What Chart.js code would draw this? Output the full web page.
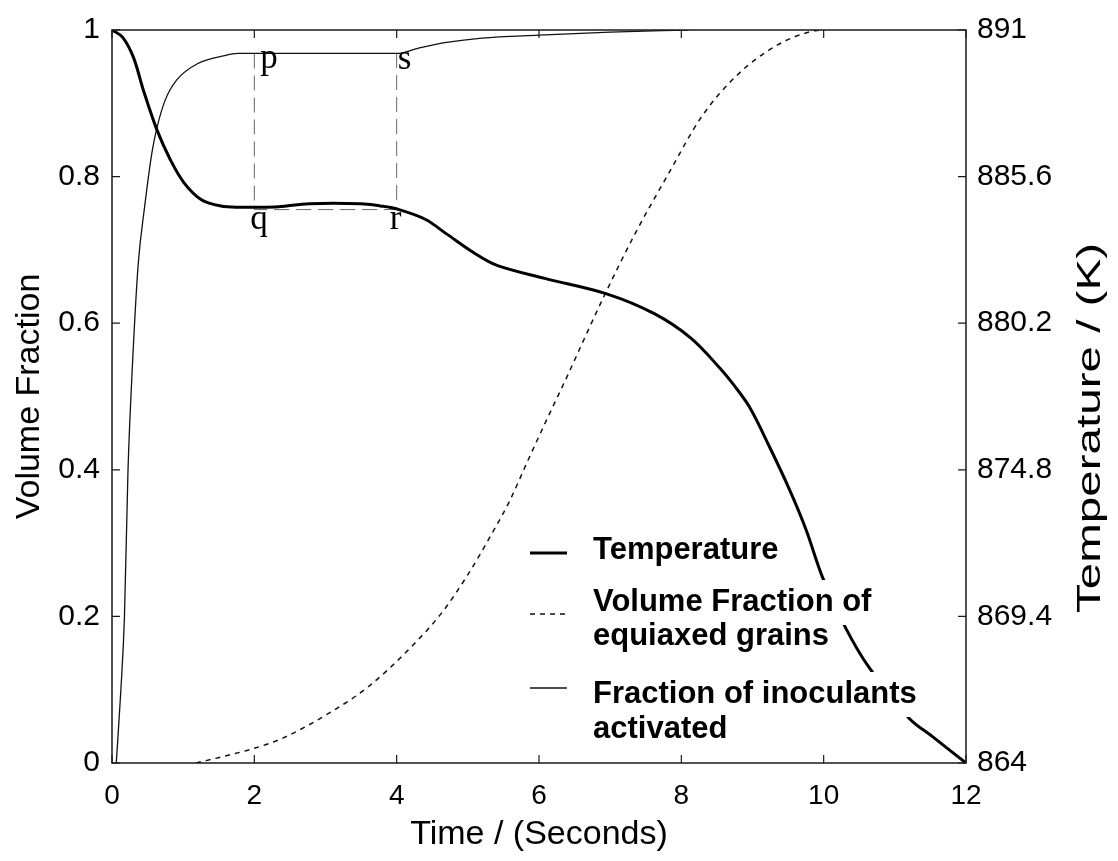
<!DOCTYPE html>
<html>
<head>
<meta charset="utf-8">
<title>Temperature and volume fraction against time</title>
<script src="https://cdn.jsdelivr.net/npm/chart.js@4.4.1/dist/chart.umd.min.js"></script>
<style>
  html, body { margin: 0; padding: 0; background: #fff; }
  #wrap { width: 1118px; height: 861px; }
</style>
</head>
<body>
<div id="wrap"><canvas id="chart" width="1118" height="861"></canvas></div>
<script>
// --- data ---

// temperature (K), thick curve, right axis
const tempTime = [0, 0.15, 0.3, 0.44, 0.63, 0.82, 1.01, 1.25, 1.53, 1.82, 2.0, 2.34, 2.77, 3.49, 3.77, 4.0,
  4.4, 4.7, 5.1, 5.41, 6.08, 6.95, 7.62, 8.13, 8.54, 8.75, 8.96, 9.24, 9.52, 9.75, 9.99, 10.31, 10.64, 11.2, 11.53, 12];
const tempK = [891, 890.73, 890.0, 888.79, 887.33, 886.22, 885.38, 884.76, 884.52, 884.47, 884.47, 884.49, 884.6, 884.6, 884.52, 884.41,
  884.03, 883.49, 882.77, 882.33, 881.85, 881.28, 880.55, 879.66, 878.55, 877.88, 877.1, 875.64, 874.07, 872.61, 870.8, 868.97, 867.51, 865.65, 864.97, 864];

// volume fraction of equiaxed grains, dotted curve
const grainTime = [1.18, 1.65, 2.0, 2.4, 3.05, 3.6, 4.15, 4.65, 5.0, 5.35, 5.58, 5.85, 6.15, 6.35, 6.9, 7.36, 7.82, 8.28, 8.79, 9.36, 9.82, 9.95];
const grainFrac = [0, 0.011, 0.02, 0.034, 0.068, 0.104, 0.153, 0.207, 0.257, 0.315, 0.356, 0.414, 0.477, 0.518, 0.634, 0.724, 0.804, 0.881, 0.939, 0.98, 0.998, 1.0];

// fraction of inoculants activated, thin curve
const inocTime = [0.06, 0.125, 0.175, 0.225, 0.275, 0.367, 0.46, 0.56, 0.63, 0.75, 0.91, 1.2, 1.58, 1.77, 2.0, 3.0, 4.0,
  4.3, 4.7, 5.2, 6.0, 7.0, 8.1];
const inocFrac = [0, 0.1, 0.2, 0.4, 0.518, 0.679, 0.76, 0.832, 0.866, 0.905, 0.932, 0.954, 0.965, 0.968, 0.968, 0.968, 0.968,
  0.975, 0.983, 0.989, 0.993, 0.997, 1.0];

// p-q-r-s construction
const boxTime = [2, 2, 4, 4];
const boxFrac = [0.968, 0.755, 0.755, 0.968];
const boxLabels = ['p', 'q', 'r', 's'];

// ticks
const timeTicks = [0, 2, 4, 6, 8, 10, 12];
const fracTicks = [0, 0.2, 0.4, 0.6, 0.8, 1];
const tempTicks = [864, 869.4, 874.8, 880.2, 885.6, 891];

const legendLines = [['Temperature'], ['Volume Fraction of', 'equiaxed grains'], ['Fraction of inoculants', 'activated']];

const pts = (xs, ys) => xs.map((x, i) => ({ x, y: ys[i] }));

Chart.defaults.font.family = "'Liberation Sans', Arial, sans-serif";
Chart.defaults.color = '#000';

// frame, inward ticks, p/q/r/s, right title, legend
const decorations = {
  id: 'decorations',
  afterDatasetsDraw(chart) {
    const { ctx, chartArea: a, scales } = chart;
    ctx.save();

    ctx.strokeStyle = '#1a1a1a';
    ctx.lineWidth = 1.5;
    ctx.strokeRect(a.left, a.top, a.right - a.left, a.bottom - a.top);

    const len = 8;
    ctx.lineWidth = 1.2;
    ctx.beginPath();
    scales.x.ticks.forEach(t => {
      const px = scales.x.getPixelForValue(t.value);
      ctx.moveTo(px, a.bottom); ctx.lineTo(px, a.bottom - len);
      ctx.moveTo(px, a.top); ctx.lineTo(px, a.top + len);
    });
    scales.y.ticks.forEach(t => {
      const py = scales.y.getPixelForValue(t.value);
      ctx.moveTo(a.left, py); ctx.lineTo(a.left + len, py);
    });
    scales.y2.ticks.forEach(t => {
      const py = scales.y2.getPixelForValue(t.value);
      ctx.moveTo(a.right, py); ctx.lineTo(a.right - len, py);
    });
    ctx.stroke();

    // p q r s
    const offs = [[6, 15], [-4, 19], [-7, 19], [1, 16]];
    ctx.fillStyle = '#000';
    ctx.font = "35px 'Liberation Serif', 'Times New Roman', serif";
    ctx.textBaseline = 'alphabetic';
    ctx.textAlign = 'left';
    boxLabels.forEach((lab, i) => {
      const px = scales.x.getPixelForValue(boxTime[i]);
      const py = scales.y.getPixelForValue(boxFrac[i]);
      ctx.fillText(lab, px + offs[i][0], py + offs[i][1]);
    });

    // right axis title, reading upwards
    ctx.save();
    ctx.font = "34px 'Liberation Sans', Arial, sans-serif";
    const title = 'Temperature / (K)';
    const stretch = 370 / ctx.measureText(title).width;
    ctx.translate(1091, 428);
    ctx.rotate(-Math.PI / 2);
    ctx.scale(stretch, 1);
    ctx.textAlign = 'center';
    ctx.textBaseline = 'middle';
    ctx.fillText(title, 0, 0);
    ctx.restore();

    // legend
    const ds = chart.data.datasets;
    const baselines = [[559], [611, 645], [703, 738]];
    const sampleY = [553, 614, 688];
    const textX = 593;
    ctx.font = "bold 31px 'Liberation Sans', Arial, sans-serif";
    legendLines.forEach((lines, i) => {
      lines.forEach((txt, j) => {
        const w = ctx.measureText(txt).width;
        const b = baselines[i][j];
        ctx.fillStyle = '#fff';
        ctx.fillRect(textX - 3, b - 31, w + 6, 45);
      });
    });
    legendLines.forEach((lines, i) => {
      const d = ds[i];
      ctx.strokeStyle = d.borderColor;
      ctx.lineWidth = d.borderWidth;
      ctx.setLineDash(d.borderDash || []);
      ctx.beginPath();
      ctx.moveTo(530, sampleY[i]);
      ctx.lineTo(567, sampleY[i]);
      ctx.stroke();
      ctx.setLineDash([]);
      ctx.fillStyle = '#000';
      lines.forEach((txt, j) => ctx.fillText(txt, textX, baselines[i][j]));
    });

    ctx.restore();
  }
};

new Chart(document.getElementById('chart'), {
  type: 'scatter',
  data: {
    datasets: [
      {
        label: 'Temperature',
        data: pts(tempTime, tempK),
        yAxisID: 'y2',
        showLine: true,
        borderColor: '#000',
        borderWidth: 3,
        pointRadius: 0,
        tension: 0.35
      },
      {
        label: 'Volume Fraction of equiaxed grains',
        data: pts(grainTime, grainFrac),
        yAxisID: 'y',
        showLine: true,
        borderColor: '#111',
        borderWidth: 1.5,
        borderDash: [5, 5],
        pointRadius: 0,
        cubicInterpolationMode: 'monotone'
      },
      {
        label: 'Fraction of inoculants activated',
        data: pts(inocTime, inocFrac),
        yAxisID: 'y',
        showLine: true,
        borderColor: '#111',
        borderWidth: 1.3,
        pointRadius: 0,
        cubicInterpolationMode: 'monotone'
      },
      {
        label: 'pqrs',
        data: pts(boxTime, boxFrac),
        yAxisID: 'y',
        showLine: true,
        borderColor: '#666',
        borderWidth: 1,
        borderDash: [15, 7],
        pointRadius: 0,
        tension: 0
      }
    ]
  },
  options: {
    responsive: false,
    animation: false,
    devicePixelRatio: 1,
    layout: { padding: { top: 23, left: 0, right: 0, bottom: 0 } },
    plugins: { legend: { display: false }, tooltip: { enabled: false } },
    scales: {
      x: {
        type: 'linear', min: 0, max: 12,
        afterBuildTicks: s => { s.ticks = timeTicks.map(v => ({ value: v })); },
        afterFit: s => { s.height = 98; },
        grid: { display: false, drawTicks: false },
        border: { display: false },
        ticks: { font: { size: 28 }, padding: 16, maxRotation: 0 },
        title: { display: true, text: 'Time / (Seconds)', font: { size: 34 }, padding: { top: 0, bottom: 6 } }
      },
      y: {
        type: 'linear', position: 'left', min: 0, max: 1,
        afterBuildTicks: s => { s.ticks = fracTicks.map(v => ({ value: v })); },
        afterFit: s => { s.width = 112; },
        grid: { display: false, drawTicks: false },
        border: { display: false },
        ticks: { font: { size: 30 }, padding: 12, callback: v => String(v) },
        title: { display: true, text: 'Volume Fraction', font: { size: 34 }, padding: { top: 9, bottom: 0 } }
      },
      y2: {
        type: 'linear', position: 'right', min: 864, max: 891,
        afterBuildTicks: s => { s.ticks = tempTicks.map(v => ({ value: v })); },
        afterFit: s => { s.width = 152; },
        grid: { display: false, drawTicks: false },
        border: { display: false },
        ticks: { font: { size: 30 }, padding: 11, callback: v => String(v) }
      }
    }
  },
  plugins: [decorations]
});
</script>
</body>
</html>
